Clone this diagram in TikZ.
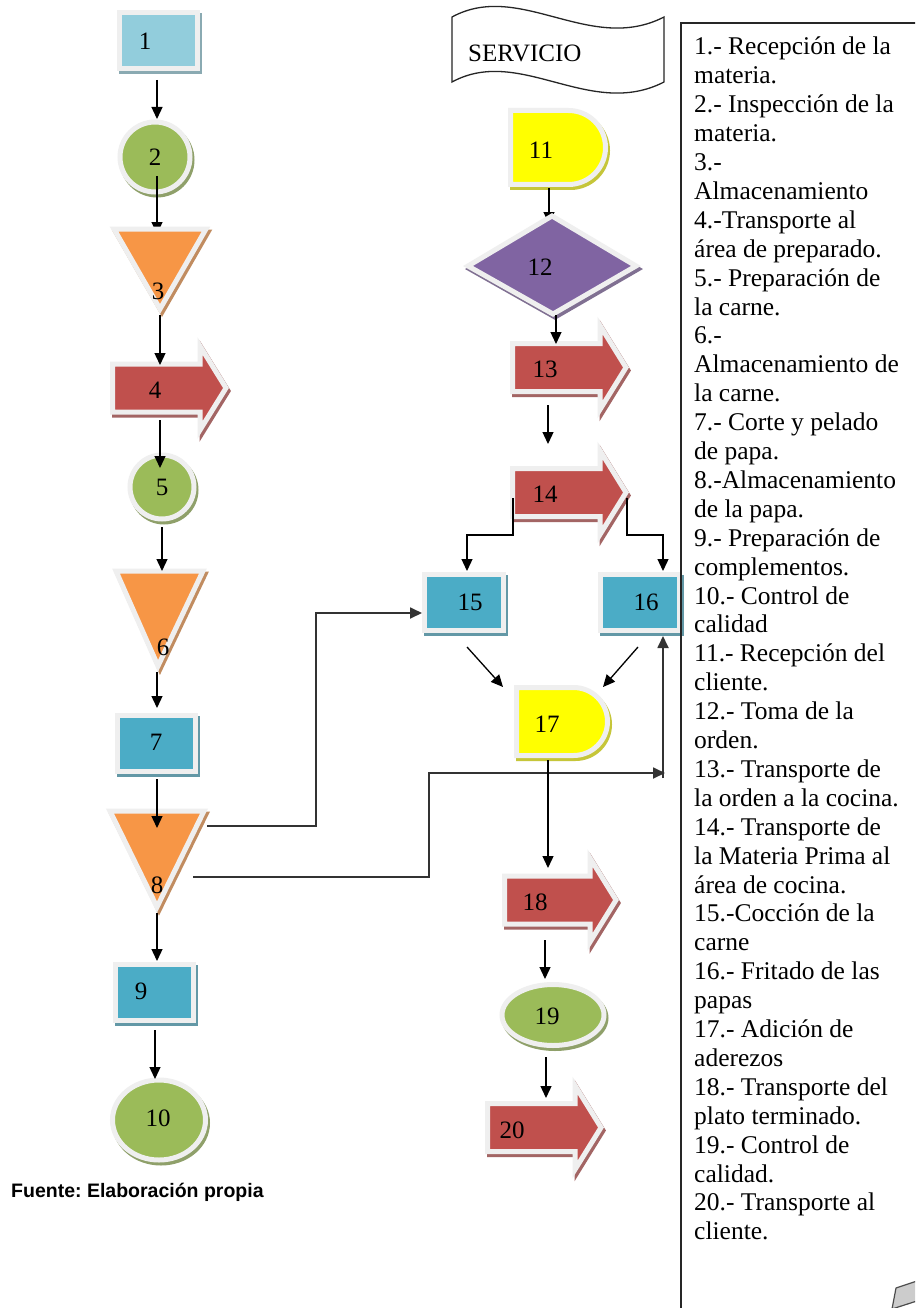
\documentclass[tikz,border=0pt]{standalone}
\usepackage{fontspec}
\setmainfont{Liberation Serif}
\newfontfamily\arialfont{Liberation Sans}
\usetikzlibrary{arrows.meta,calc}
\definecolor{lblue}{HTML}{92CDDC}
\definecolor{mblue}{HTML}{4BACC6}
\definecolor{lgreen}{HTML}{9BBB59}
\definecolor{lorange}{HTML}{F79646}
\definecolor{lred}{HTML}{C0504D}
\definecolor{lpurple}{HTML}{8064A2}
\definecolor{lyellow}{HTML}{FFFF00}
\definecolor{framegray}{HTML}{EFEFEF}
\frenchspacing
\newcommand\fshape[2]{%
  \path[fill=#1!55!gray, draw=#1!55!gray, line width=5pt, line join=miter, shift={(2,3)}] #2;
  \path[fill=#1, draw=framegray, line width=5pt, line join=miter] #2;}
\newcommand\barrow[5]{\fshape{#1}{(#2,{#3-24}) -- (#4,{#3-24}) -- (#4,{#3-42}) -- (#5,#3) -- (#4,{#3+42}) -- (#4,{#3+24}) -- (#2,{#3+24}) -- cycle}}
\tikzset{
  num/.style={font=\fontsize{25}{28}\selectfont, inner sep=0pt},
  conn/.style={draw=black, line width=1.3pt, -{Triangle[length=12pt,width=11pt]}},
  connbar/.style={draw=black!80, line width=1.8pt, -{Triangle[length=12pt,width=11pt]}},
  boxline/.style={draw=black!85, line width=1.3pt},
}
\begin{document}
\begin{tikzpicture}[x=1pt,y=-1pt]
\useasboundingbox (0,0) rectangle (915,1308);
\clip (0,0) rectangle (915,1308);
\fill[white] (0,0) rectangle (915,1308);

% ---------------- left column ----------------
\fshape{lblue}{(119.5,13) rectangle (197.5,69)}
\node[num] (n1) at (145,41) {1};
\fshape{lgreen}{(155,157) circle [radius=35]}
\node[num] (n2) at (155,157) {2};
\coordinate (c2a) at (157,176);
\coordinate (c3in) at (157,234);
\draw[conn] (c2a) -- (c3in);
\fshape{lorange}{(114,229) -- (206,229) -- (160,309) -- cycle}
\node[num] (n3) at (158,291) {3};
\barrow{lred}{112.5}{388}{200}{226}
\node[num] (n4) at (155,390) {4};
\fshape{lgreen}{(162,487) circle [radius=32]}
\node[num] (n5) at (162,487) {5};
\fshape{lorange}{(116,571) -- (203,571) -- (158,666) -- cycle}
\node[num] (n6) at (163,647) {6};
\fshape{mblue}{(117.5,715.5) rectangle (195.5,771.5)}
\node[num] (n7) at (156,742) {7};
\fshape{lorange}{(110,811) -- (204,811) -- (157,907) -- cycle}
\node[num] (n8) at (157,885) {8};
\fshape{mblue}{(115.5,964.5) rectangle (193.5,1020.5)}
\node[num] (n9) at (141,991) {9};
\fshape{lgreen}{(159,1120) ellipse [x radius=46.5, y radius=40]}
\node[num] (n10) at (158,1118) {10};

% ---------------- right column ----------------
\draw[boxline, fill=white] (452,17) .. controls (520,-20) and (590,55) .. (664,17) -- (664,82)
   .. controls (590,120) and (520,45) .. (452,82) -- cycle;
\node[num, anchor=west] (serv) at (468,53) {SERVICIO};

\fshape{lyellow}{(510.5,110.5) -- (568.5,110.5) arc[start angle=-90, end angle=90, radius=37] -- (510.5,184.5) -- cycle}
\node[num] (n11) at (541,150) {11};
\coordinate (c11a) at (549,188);
\coordinate (c12in) at (549,224);
\draw[conn] (c11a) -- (c12in);
\fshape{lpurple}{(552,216) -- (636,266) -- (553,314) -- (468,266) -- cycle}
\node[num] (n12) at (540,267) {12};
\barrow{lred}{512.5}{367.5}{600}{626}
\node[num] (n13) at (545,369) {13};
\barrow{lred}{512.5}{492.5}{600}{626}
\node[num] (n14) at (545,494) {14};
\fshape{mblue}{(424.5,574.5) rectangle (503.5,630.5)}
\node[num] (n15) at (470,602) {15};
\fshape{mblue}{(600.5,574.5) rectangle (679.5,630.5)}
\node[num] (n16) at (646,602) {16};
\fshape{lyellow}{(516.5,687.5) -- (573.5,687.5) arc[start angle=-90, end angle=90, radius=34] -- (516.5,755.5) -- cycle}
\node[num] (n17) at (547,724) {17};
\barrow{lred}{504.5}{900}{590}{616}
\node[num] (n18) at (535,902) {18};
\fshape{lgreen}{(553,1015) ellipse [x radius=51, y radius=30.5]}
\node[num] (n19) at (547,1016) {19};
\barrow{lred}{487.5}{1127.5}{575}{601}
\node[num] (n20) at (512,1130) {20};

% ---------------- connectors ----------------
\draw[conn] ($(n1)+(12,39)$) -- ($(n2)+(2,-38)$);
\draw[conn] ($(n3)+(2,24)$) -- ($(n4)+(5,-25)$);
\draw[conn] ($(n4)+(5,30)$) -- ($(n5)+(-2,-19)$);
\draw[conn] ($(n5)+(0,40)$) -- ($(n6)+(-1,-76)$);
\draw[conn] ($(n6)+(-6,25)$) -- ($(n7)+(1,-34)$);
\draw[conn] ($(n7)+(1,37)$) -- ($(n8)+(0,-57)$);
\draw[conn] ($(n8)+(0,28)$) -- ($(n9)+(16,-30)$);
\draw[conn] ($(n9)+(14,39)$) -- ($(n10)+(-3,-39)$);
% 8 -> 15 and 8 -> 16
\draw[connbar] ($(n8)+(50,-59)$) -- ++(109,0) |- ($(n15)+(-48,11)$);
\draw[connbar] ($(n8)+(36,-8)$) -- ++(236,0) |- ($(n16)+(19,171)$);
\draw[connbar] ($(n16)+(17,176)$) -- ($(n16)+(17,34)$);
% right column
\draw[conn] ($(n12)+(16,48)$) -- ($(n13)+(11,-25)$);
\draw[conn] ($(n13)+(3,36)$) -- ($(n14)+(3,-50)$);
\draw[conn] ($(n14)+(-32,4)$) -- ++(0,37) -| ($(n15)+(-3,-31)$);
\draw[conn] ($(n14)+(82,4)$) -- ++(0,37) -| ($(n16)+(17,-31)$);
\draw[conn] ($(n15)+(-3,45)$) -- ($(n17)+(-44,-37)$);
\draw[conn] ($(n16)+(-8,45)$) -- ($(n17)+(56,-37)$);
\draw[conn] ($(n17)+(1,36)$) -- ($(n18)+(13,-34)$);
\draw[conn] ($(n18)+(10,38)$) -- ($(n19)+(-2,-37)$);
\draw[conn] ($(n19)+(-1,41)$) -- ($(n20)+(34,-32)$);

% ---------------- legend box ----------------
\draw[boxline] (681,23) rectangle (960,1340);
\node[anchor=north west, inner sep=0pt, align=left,
      font=\fontsize{25.5}{28.9}\selectfont] (legend) at (694,37) {%
1.- Recepción de la\\
materia.\\
2.- Inspección de la\\
materia.\\
3.-\\
Almacenamiento\\
4.-Transporte al\\
área de preparado.\\
5.- Preparación de\\
la carne.\\
6.-\\
Almacenamiento de\\
la carne.\\
7.- Corte y pelado\\
de papa.\\
8.-Almacenamiento\\
de la papa.\\
9.- Preparación de\\
complementos.\\
10.- Control de\\
calidad\\
11.- Recepción del\\
cliente.\\
12.- Toma de la\\
orden.\\
13.- Transporte de\\
la orden a la cocina.\\
14.- Transporte de\\
la Materia Prima al\\
área de cocina.\\
15.-Cocción de la\\
carne\\
16.- Fritado de las\\
papas\\
17.- Adición de\\
aderezos\\
18.- Transporte del\\
plato terminado.\\
19.- Control de\\
calidad.\\
20.- Transporte al\\
cliente.};
\draw[draw=black!70, fill=black!20, line width=1.2pt, line join=round] (892,1309) -- (896,1288) -- (920,1280) -- (920,1300) -- cycle;

\node[anchor=base west, inner sep=0pt, font=\arialfont\bfseries\fontsize{19.5}{22}\selectfont] (src) at (11,1197) {Fuente: Elaboración propia};
\end{tikzpicture}
\end{document}
